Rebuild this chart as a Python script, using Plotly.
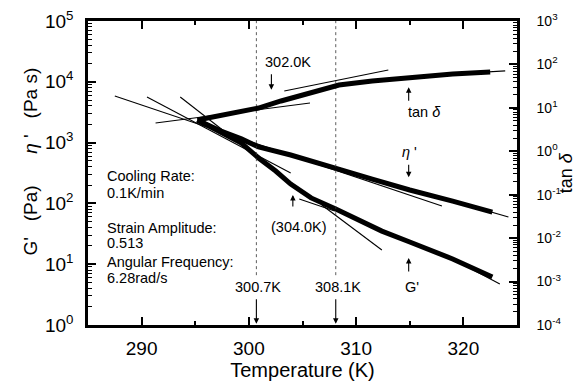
import math
import plotly.graph_objects as go

# ---- data ----
temp_g = [295.2, 297.4, 299.3, 300.9, 302.5, 303.9, 305.8, 308.1, 310.5, 312.4, 315.0, 319.0, 322.7]
g_prime = [2355, 1494, 985, 558, 341, 208, 123, 81, 51, 35, 23.2, 12.2, 6.15]

temp_eta = [295.2, 297.4, 299.3, 300.9, 303.9, 304.9, 307.7, 308.6, 311.5, 315.0, 319.0, 322.7]
eta_prime = [2340, 1550, 1150, 847, 625, 558, 397, 355, 251, 166, 109, 72]

temp_tan = [295.2, 298.3, 300.9, 303.0, 304.9, 308.4, 311.5, 314.3, 319.0, 322.5]
tan_delta = [5.25, 7.2, 9.9, 14.4, 19.8, 33.6, 41.5, 48.6, 60.1, 67.0]

# tangent / fit lines (T0, T1, v0, v1)
fit_lines_left = [
    (287.5, 318.0, 5840, 90.6),
    (290.5, 303.9, 5620, 316),
    (293.6, 300.9, 5620, 558),
    (304.7, 308.0, 118, 75),
    (306.8, 312.4, 94.2, 17.1),
    (319.0, 324.2, 110, 59.7),
    (319.0, 323.4, 12.2, 4.72),
]
fit_lines_right = [
    (291.3, 305.7, 4.48, 12.9),
    (303.3, 313.0, 24.4, 74.3),
    (319.0, 323.9, 60.0, 71.0),
]

transitions = [300.7, 308.1]
left_ticks = [1, 10, 100, 1000, 10000, 100000]
left_ticktext = ["10<sup>0</sup>", "10<sup>1</sup>", "10<sup>2</sup>", "10<sup>3</sup>", "10<sup>4</sup>", "10<sup>5</sup>"]
right_ticks = [1e-4, 1e-3, 1e-2, 1e-1, 1, 10, 100, 1000]
right_ticktext = ["10<sup>-4</sup>", "10<sup>-3</sup>", "10<sup>-2</sup>", "10<sup>-1</sup>",
                  "10<sup>0</sup>", "10<sup>1</sup>", "10<sup>2</sup>", "10<sup>3</sup>"]
x_ticks = [290, 300, 310, 320]

FONT = "Liberation Sans, Arial, Helvetica, sans-serif"
fig = go.Figure()

band = dict(color="black", width=5)
fig.add_trace(go.Scatter(x=temp_g, y=g_prime, mode="lines", line=band, yaxis="y"))
fig.add_trace(go.Scatter(x=temp_eta, y=eta_prime, mode="lines", line=band, yaxis="y"))
fig.add_trace(go.Scatter(x=temp_tan, y=tan_delta, mode="lines", line=band, yaxis="y2"))

for t0, t1, v0, v1 in fit_lines_left:
    fig.add_trace(go.Scatter(x=[t0, t1], y=[v0, v1], mode="lines",
                             line=dict(color="black", width=1.1), yaxis="y"))
for t0, t1, v0, v1 in fit_lines_right:
    fig.add_trace(go.Scatter(x=[t0, t1], y=[v0, v1], mode="lines",
                             line=dict(color="black", width=1.1), yaxis="y2"))

for t in transitions:
    fig.add_trace(go.Scatter(x=[t, t], y=[6.6, 1e5], mode="lines",
                             line=dict(color="#333", width=0.8, dash="dot"), yaxis="y"))

minor_left = [m * 10 ** d for d in range(0, 5) for m in range(2, 10)]
minor_right = [m * 10.0 ** d for d in range(-4, 3) for m in range(2, 10)]

L = math.log10
ann = []
def text(x, y, s, size=14.5, xanchor="center"):
    ann.append(dict(x=x, y=L(y), xref="x", yref="y", text=s, showarrow=False,
                    xanchor=xanchor, yanchor="middle",
                    font=dict(family=FONT, size=size, color="black")))
def arrow(x, y_tip, dy):
    ann.append(dict(x=x, y=L(y_tip), xref="x", yref="y", text="", showarrow=True,
                    ax=0, ay=dy, arrowhead=2, arrowsize=1, arrowwidth=1.1,
                    arrowcolor="black"))

# labels
text(303.67, 10 ** 4.33, "302.0K")
arrow(302.1, 10 ** 3.87, -17)
text(316.4, 10 ** 3.50, "tan <i>δ</i>")
arrow(314.9, 10 ** 3.91, 15)
text(315.0, 10 ** 2.85, "<i>η</i> '")
arrow(314.9, 10 ** 2.43, -14)
text(315.2, 10 ** 0.625, "G'")
arrow(314.9, 10 ** 1.10, 15)
text(304.7, 10 ** 1.61, "(304.0K)")
arrow(304.1, 10 ** 2.14, 13)
text(300.85, 10 ** 0.625, "300.7K")
arrow(300.7, 10 ** 0.02, -26)
text(308.35, 10 ** 0.625, "308.1K")
arrow(308.1, 10 ** 0.02, -26)

for yy, s in [(2.45, "Cooling Rate:"), (2.17, "0.1K/min"), (1.595, "Strain Amplitude:"),
              (1.35, "0.513"), (1.036, "Angular Frequency:"), (0.773, "6.28rad/s")]:
    text(286.6, 10 ** yy, s, xanchor="left")

# axis titles as rotated text
NB = "\u00a0"
left_title = "G'" + NB * 3 + "(Pa)" + NB * 6 + "<i>η</i> '" + NB * 3 + "(Pa s)"
ann.append(dict(x=-0.135, y=0.538, xref="paper", yref="paper", showarrow=False,
                xanchor="center", yanchor="middle",
                text=left_title, textangle=-90,
                font=dict(family=FONT, size=19, color="black")))
ann.append(dict(x=1.115, y=0.50, xref="paper", yref="paper", showarrow=False,
                xanchor="center", yanchor="middle",
                text="tan <i>δ</i>", textangle=-90,
                font=dict(family=FONT, size=18, color="black")))

axis_common = dict(showline=True, linewidth=2.5, linecolor="black", ticks="inside",
                   tickcolor="black", showgrid=False, zeroline=False, automargin=False)

fig.update_layout(
    template="none",
    width=579, height=383,
    margin=dict(l=88, r=62, t=21, b=58, autoexpand=False),
    paper_bgcolor="white", plot_bgcolor="white",
    showlegend=False,
    font=dict(family=FONT, color="black"),
    xaxis=dict(range=[285, 325], tickvals=x_ticks, ticklen=8, tickwidth=1.5,
               mirror="ticks", tickfont=dict(size=19), ticklabelstandoff=4,
               minor=dict(tickvals=[295, 305, 315], ticks="inside", ticklen=4,
                          tickwidth=1.5, tickcolor="black"),
               title=dict(text="Temperature (K)", font=dict(size=20), standoff=6),
               **axis_common),
    yaxis=dict(type="log", range=[0, 5], tickvals=left_ticks, ticktext=left_ticktext,
               ticklen=8, tickwidth=1.5, tickfont=dict(size=19), ticklabelstandoff=8,
               minor=dict(tickvals=minor_left, ticks="inside", ticklen=4,
                          tickwidth=1, tickcolor="black"),
               **axis_common),
    yaxis2=dict(type="log", range=[-4, 3], overlaying="y", side="right",
                tickvals=right_ticks, ticktext=right_ticktext, ticklen=8, tickwidth=1.5,
                tickfont=dict(size=14), ticklabelstandoff=14,
                minor=dict(tickvals=minor_right, ticks="inside", ticklen=4,
                           tickwidth=1, tickcolor="black"),
                **axis_common),
    annotations=ann,
)

fig.write_html("out.html", config={"displayModeBar": False},
               post_script="document.body.style.margin='0';document.body.style.overflow='hidden';")
